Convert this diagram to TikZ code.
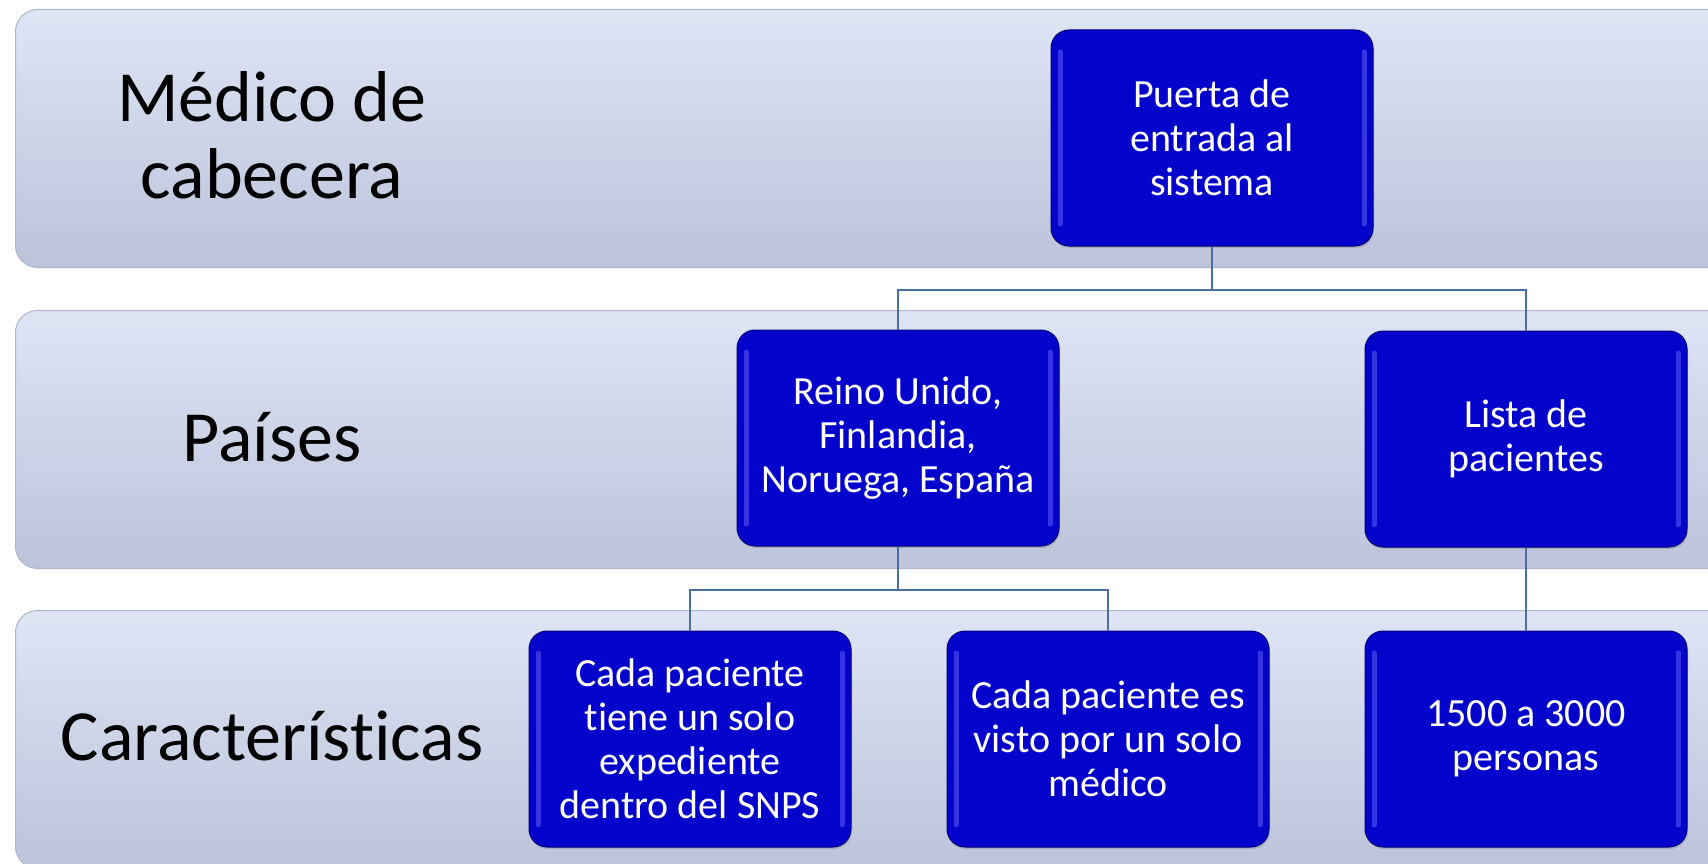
\documentclass[tikz,border=0pt]{standalone}
\usepackage{fontspec}
\setmainfont[Ligatures={NoCommon,NoContextual},Contextuals=NoAlternate]{Carlito}
\usetikzlibrary{shadows}
\definecolor{bandtop}{HTML}{DFE4F5}
\definecolor{bandbot}{HTML}{BCC3DA}
\definecolor{bandline}{HTML}{AEB5CA}
\definecolor{boxfill}{HTML}{0303CC}
\definecolor{boxline}{HTML}{00007A}
\definecolor{boxhl}{HTML}{4A4AEE}
\definecolor{conncol}{HTML}{4A6FA5}
\tikzset{
  x=1pt, y=-1pt,
  band/.style={draw=bandline, line width=1pt, rounded corners=22pt,
    top color=bandtop, bottom color=bandbot, minimum width=1720pt,
    minimum height=258pt, anchor=north west, inner sep=0pt},
  lbl/.style={font=\fontsize{72}{77}\selectfont, align=center, text=black},
  bluebox/.style={draw=boxline, line width=1pt, fill=boxfill, rounded corners=18pt,
    minimum width=322pt, minimum height=216pt, inner sep=0pt, text=white,
    align=center, font=\fontsize{40}{44}\selectfont,
    drop shadow={shadow xshift=1pt, shadow yshift=-2pt, opacity=0.35},
    path picture={
      \draw[boxhl, line width=5pt, line cap=round, opacity=0.7]
        ([xshift=9pt,yshift=-22pt]path picture bounding box.north west) --
        ([xshift=9pt,yshift=22pt]path picture bounding box.south west);
      \draw[boxhl, line width=5pt, line cap=round, opacity=0.7]
        ([xshift=-9pt,yshift=-22pt]path picture bounding box.north east) --
        ([xshift=-9pt,yshift=22pt]path picture bounding box.south east);
    }},
  conn/.style={draw=conncol, line width=2pt}
}
\begin{document}
\begin{tikzpicture}
\useasboundingbox (0,0) rectangle (1708,864);
\fill[white] (0,0) rectangle (1708,864);
\clip (0,0) rectangle (1708,864);
% bands
\node[band] (b1) at (15,9) {};
\node[band] (b2) at (15,310) {};
\node[band] (b3) at (15,610) {};
% labels
\node[lbl] (l1) at (272,135) {Médico de\\cabecera};
\node[lbl] (l2) at (272,437) {Países};
\node[lbl] (l3) at (272,736) {Características};
% boxes
\node[bluebox] (puerta) at (1212,138) {Puerta de\\entrada al\\sistema};
\node[bluebox] (reino) at (898,438) {Reino Unido,\\Finlandia,\\Noruega, España};
\node[bluebox] (lista) at (1526,439) {Lista de\\pacientes};
\node[bluebox] (c1) at (690,739) {Cada paciente\\tiene un solo\\expediente\\dentro del SNPS};
\node[bluebox] (c2) at (1108,739) {Cada paciente es\\visto por un solo\\médico};
\node[bluebox] (c3) at (1526,739) {1500 a 3000\\personas};
% connectors
\draw[conn] (puerta.south) -- ++(0,43) -| (reino.north);
\draw[conn] (puerta.south) -- ++(0,43) -| (lista.north);
\draw[conn] (reino.south) -- ++(0,43) -| (c1.north);
\draw[conn] (reino.south) -- ++(0,43) -| (c2.north);
\draw[conn] (lista.south) -- (c3.north);
\end{tikzpicture}
\end{document}
